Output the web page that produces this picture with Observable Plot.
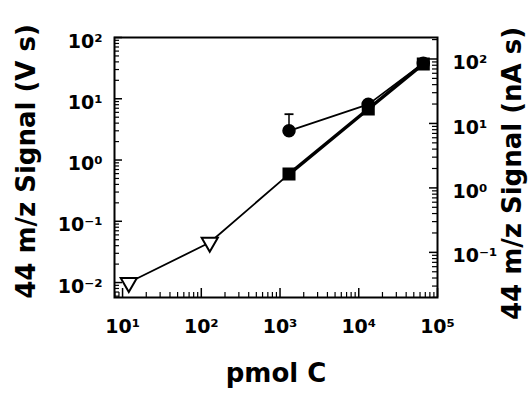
<!DOCTYPE html>
<html>
<head>
<meta charset="utf-8">
<script src="https://cdn.jsdelivr.net/npm/d3@7"></script>
<script src="https://cdn.jsdelivr.net/npm/@observablehq/plot@0.6"></script>
<style>
  html, body { margin: 0; padding: 0; background: #fff; }
  svg text { font-family: "DejaVu Sans", "Liberation Sans", Arial, sans-serif; font-weight: bold; }
</style>
</head>
<body>
<div id="chart"></div>
<script>
// ---- data ----
const xTicks = [10, 100, 1000, 10000, 100000];
const xTickLabels = ["10¹", "10²", "10³", "10⁴", "10⁵"];
const yLeftTicks = [0.01, 0.1, 1, 10, 100];
const yLeftLabels = ["10⁻²", "10⁻¹", "10⁰", "10¹", "10²"];
const yRightTicks = [0.1, 1, 10, 100];
const yRightLabels = ["10⁻¹", "10⁰", "10¹", "10²"];

// open triangles (low-range points)
const triX = [12, 128];
const triY = [0.0100, 0.045];
// filled squares
const sqX = [1300, 13200, 66000];
const sqY = [0.59, 6.8, 37];
// filled circles
const circX = [1300, 13200, 66000];
const circY = [3.0, 8.1, 38];
// upper error bar on first circle
const errX = [1300];
const errLow = [3.0];
const errHigh = [5.6];

const xTitle = "pmol C";
const yLeftTitle = "44 m/z Signal (V s)";
const yRightTitle = "44 m/z Signal (nA s)";

// ---- layout ----
const W = 532, H = 402;
const mL = 114, mR = 95, mT = 37, mB = 105;
const plotW = W - mL - mR, plotH = H - mT - mB;
const xDomain = [7.9, 1e5];
const yDomain = [0.0057, 100];
// right axis (nA s) expressed in left-axis (V s) units
const rightToLeft = r => Math.pow(10, 2 - (21.5 + (2 - Math.log10(r)) * 64.5) / 61.3);
const rDomainLog = [-1.70, 2.33];

function minorTicks(lo, hi) {
  const out = [];
  for (let e = Math.floor(lo); e <= Math.ceil(hi); e++)
    for (let m = 2; m <= 9; m++) {
      const v = m * Math.pow(10, e);
      const l = Math.log10(v);
      if (l > lo && l < hi) out.push(v);
    }
  return out;
}
const xMinor = minorTicks(Math.log10(xDomain[0]), Math.log10(xDomain[1]));
const yMinor = minorTicks(Math.log10(yDomain[0]), Math.log10(yDomain[1]));
const rMinor = minorTicks(rDomainLog[0], rDomainLog[1]);

const capSymbol = {
  draw(ctx, size) {
    const r = Math.sqrt(size / Math.PI);
    ctx.moveTo(-r, 0); ctx.lineTo(r, 0);
  }
};

const FF = "DejaVu Sans, Liberation Sans, Arial, sans-serif";
const font = {fontSize: 19, fontWeight: "bold", fill: "black", fontFamily: FF};
const tfont = {fontSize: 26, fontWeight: "bold", fill: "black", fontFamily: FF, textAnchor: "middle"};

const chart = Plot.plot({
  width: W, height: H,
  marginLeft: mL, marginRight: mR, marginTop: mT, marginBottom: mB,
  x: {type: "log", domain: xDomain, axis: null},
  y: {type: "log", domain: yDomain, axis: null},
  marks: [
    // left ticks (inward)
    Plot.tickY(yLeftTicks, {y: d => d, insetRight: plotW - 8, strokeWidth: 1.5}),
    Plot.tickY(yMinor, {y: d => d, insetRight: plotW - 5, strokeWidth: 1.2}),
    // right ticks (inward)
    Plot.tickY(yRightTicks, {y: rightToLeft, insetLeft: plotW - 8, strokeWidth: 1.5}),
    Plot.tickY(rMinor, {y: rightToLeft, insetLeft: plotW - 5, strokeWidth: 1.2}),
    // bottom ticks (inward)
    Plot.tickX(xTicks, {x: d => d, insetTop: plotH - 9, strokeWidth: 1.5}),
    Plot.tickX(xMinor, {x: d => d, insetTop: plotH - 5, strokeWidth: 1.2}),
    Plot.frame({strokeWidth: 2}),
    // tick labels
    Plot.text(yLeftTicks, {y: d => d, frameAnchor: "left", dx: -12, dy: 4, textAnchor: "end",
      text: (d, i) => yLeftLabels[i], ...font}),
    Plot.text(yRightTicks, {y: rightToLeft, frameAnchor: "right", dx: 15, dy: 4, textAnchor: "start",
      text: (d, i) => yRightLabels[i], ...font}),
    Plot.text(xTicks, {x: d => d, frameAnchor: "bottom", dy: 35,
      text: (d, i) => xTickLabels[i], ...font}),
    // axis titles
    Plot.text([yLeftTitle], {frameAnchor: "left", dx: -88, dy: -6, rotate: -90, ...tfont}),
    Plot.text([yRightTitle], {frameAnchor: "right", dx: 75, dy: 6, rotate: -90, ...tfont}),
    Plot.text([xTitle], {frameAnchor: "bottom", dy: 84, ...tfont}),
    // lines
    Plot.line([0, 1, 2], {x: i => i < 2 ? triX[i] : sqX[0], y: i => i < 2 ? triY[i] : sqY[0],
      stroke: "black", strokeWidth: 1.8}),
    Plot.line(sqX.map((d, i) => i), {x: i => sqX[i], y: i => sqY[i], stroke: "black", strokeWidth: 3.5}),
    Plot.line(circX.map((d, i) => i), {x: i => circX[i], y: i => circY[i], stroke: "black", strokeWidth: 1.8}),
    // error bar
    Plot.ruleX(errX.map((d, i) => i), {x: i => errX[i], y1: i => errLow[i], y2: i => errHigh[i], strokeWidth: 1.5}),
    Plot.dot(errX.map((d, i) => i), {x: i => errX[i], y: i => errHigh[i], symbol: capSymbol, r: 4.5,
      stroke: "black", strokeWidth: 1.8}),
    // markers
    Plot.dot(triX.map((d, i) => i), {x: i => triX[i], y: i => triY[i], symbol: "triangle", rotate: 180,
      r: 6, fill: "white", stroke: "black", strokeWidth: 2}),
    Plot.dot(sqX.map((d, i) => i), {x: i => sqX[i], y: i => sqY[i], symbol: "square", r: 6.5,
      fill: "black", stroke: "black"}),
    Plot.dot(circX.map((d, i) => i), {x: i => circX[i], y: i => circY[i], symbol: "circle", r: 6,
      fill: "black", stroke: "black"})
  ]
});
document.getElementById("chart").appendChild(chart);
</script>
</body>
</html>
